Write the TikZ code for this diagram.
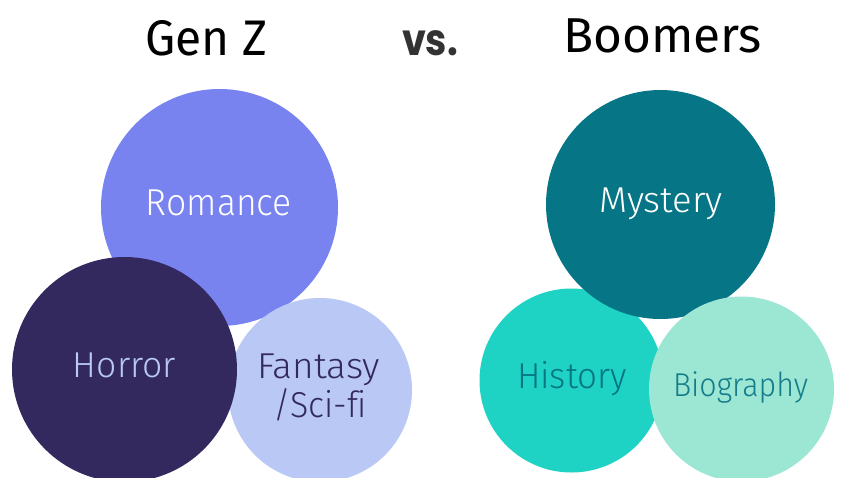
\documentclass[tikz,border=0pt]{standalone}
\usepackage{fontspec}
\setmainfont{Fira Sans}
\newfontfamily\lightfont{Fira Sans Light}[Ligatures=NoCommon]
\newfontfamily\vsfont{Poppins}
\usepackage{graphicx}
\definecolor{romanceC}{HTML}{7883F0}
\definecolor{horrorC}{HTML}{33295F}
\definecolor{fantasyC}{HTML}{B9C8F4}
\definecolor{mysteryC}{HTML}{067586}
\definecolor{historyC}{HTML}{1FD3C4}
\definecolor{biographyC}{HTML}{9CE6D4}
\definecolor{vsC}{HTML}{333333}
\definecolor{tealtext}{HTML}{147C8A}
\newcommand\fitw[2]{\resizebox{#1}{\height}{#2}}
\begin{document}
\begin{tikzpicture}[x=1pt,y=-1pt,
  bubble/.style={circle,inner sep=0pt,draw=none},
  lbl/.style={anchor=base,inner sep=0pt,font=\lightfont\fontsize{36}{40}\selectfont},
  ttl/.style={anchor=base,inner sep=0pt,font=\fontsize{50}{56}\selectfont}]
\useasboundingbox[fill=white] (0,0) rectangle (843,477);
% Gen Z
\node[bubble,fill=romanceC,minimum size=237pt] (romance) at (219.5,207.5) {};
\node[bubble,fill=fantasyC,minimum size=184pt] (fantasy) at (320,390) {};
\node[bubble,fill=horrorC,minimum size=225pt] (horror) at (124.5,369.5) {};
% Boomers
\node[bubble,fill=historyC,minimum size=184pt] (history) at (571.5,380.5) {};
\node[bubble,fill=mysteryC,minimum size=229pt] (mystery) at (660.5,204.5) {};
\node[bubble,fill=biographyC,minimum size=185pt] (biography) at (741.5,389) {};
% labels
\node[lbl,text=white,font=\lightfont\fontsize{37.5}{40}\selectfont] (tromance) at (219,215) {\fitw{146pt}{Romance}};
\node[lbl,text=fantasyC] (thorror) at (124.5,377) {\fitw{103pt}{Horror}};
\node[lbl,text=horrorC] (tfantasy) at (318.5,378) {\fitw{123pt}{Fantasy}};
\node[lbl,text=horrorC] (tscifi) at (320,417) {\fitw{94pt}{/Sci-fi}};
\node[lbl,text=white] (tmystery) at (661,212) {\fitw{124pt}{Mystery}};
\node[lbl,text=mysteryC] (thistory) at (572,388) {\fitw{110pt}{History}};
\node[lbl,text=tealtext,font=\lightfont\fontsize{33}{36}\selectfont] (tbiography) at (740.5,396) {\fitw{135pt}{Biography}};
% titles
\node[ttl] (genz) at (206,55) {\fitw{122pt}{Gen Z}};
\node[ttl,text=vsC,font=\vsfont\bfseries\fontsize{44}{52}\selectfont] (vs) at (430,55) {\fitw{56pt}{vs.}};
\node[ttl,font=\fontsize{49}{54}\selectfont] (boomers) at (662.5,52) {\fitw{199pt}{Boomers}};
\end{tikzpicture}
\end{document}
